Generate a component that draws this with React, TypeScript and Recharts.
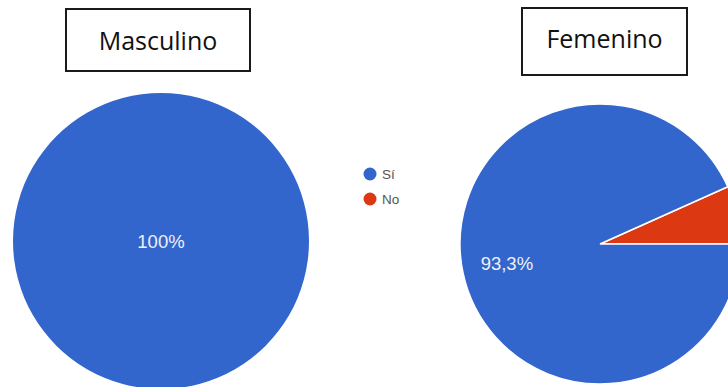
import { PieChart, Pie, Cell, Legend } from 'recharts'

const categories = ['Sí', 'No']
const colors = ['#3366cc', '#dc3912']
const titles = ['Masculino', 'Femenino']
const masculinoValues = [100, 0]
const femeninoValues = [93.3, 6.7]

const RAD = Math.PI / 180

// pie starts at 3 o'clock and goes counterclockwise, so "No" goes first to sit above the axis
const toData = (values: number[]) =>
  categories
    .map((name, i) => ({ name, value: values[i], color: colors[i] }))
    .reverse()

const masculinoData = toData(masculinoValues)
const femeninoData = toData(femeninoValues)

function formatPct(v: number) {
  return Number.isInteger(v) ? `${v}%` : `${v.toFixed(1).replace('.', ',')}%`
}

function SliceLabel(props: any) {
  const { cx, cy, midAngle, outerRadius, percent, value } = props
  if (percent < 0.1) return null
  const r = percent >= 0.999 ? 0 : outerRadius * 0.68
  const x = cx + r * Math.cos(-midAngle * RAD)
  const y = cy + r * Math.sin(-midAngle * RAD)
  return (
    <text
      x={x}
      y={y}
      fill="#eef1f8"
      fontSize={18.5}
      fontFamily="Arial, 'Liberation Sans', sans-serif"
      textAnchor="middle"
      dominantBaseline="central"
    >
      {formatPct(value)}
    </text>
  )
}

function LegendContent() {
  return (
    <svg width={60} height={50}>
      {categories.map((c, i) => (
        <g key={c}>
          <circle cx={7} cy={8 + i * 25} r={6.5} fill={colors[i]} />
          <text
            x={19}
            y={8 + i * 25}
            fontSize={13.5}
            fill="#555"
            fontFamily="Arial, 'Liberation Sans', sans-serif"
            dominantBaseline="central"
          >
            {c}
          </text>
        </g>
      ))}
    </svg>
  )
}

const boxStyle: React.CSSProperties = {
  position: 'absolute',
  border: '2px solid #1a1a1a',
  background: '#fff',
  boxSizing: 'border-box',
  display: 'flex',
  alignItems: 'center',
  justifyContent: 'center',
  fontFamily: "'Open Sans', sans-serif",
  fontSize: 25,
  color: '#111',
}

export default function App() {
  return (
    <div
      style={{
        position: 'fixed',
        left: 0,
        top: 0,
        width: 728,
        height: 387,
        overflow: 'hidden',
        background: '#fff',
      }}
    >
      <PieChart width={728} height={387} margin={{ top: 0, right: 0, bottom: 0, left: 0 }}>
        <Pie
          data={masculinoData}
          dataKey="value"
          nameKey="name"
          cx={161}
          cy={241}
          outerRadius={148}
          startAngle={0}
          endAngle={360}
          stroke="none"
          label={SliceLabel}
          labelLine={false}
          isAnimationActive={false}
          legendType="none"
        >
          {masculinoData.map((d) => (
            <Cell key={d.name} fill={d.color} />
          ))}
        </Pie>
        <Pie
          data={femeninoData}
          dataKey="value"
          nameKey="name"
          cx={600}
          cy={244}
          outerRadius={140}
          startAngle={0}
          endAngle={360}
          stroke="#fff"
          strokeWidth={1.5}
          label={SliceLabel}
          labelLine={false}
          isAnimationActive={false}
          legendType="none"
        >
          {femeninoData.map((d) => (
            <Cell key={d.name} fill={d.color} />
          ))}
        </Pie>
        <Legend
          content={<LegendContent />}
          wrapperStyle={{ position: 'absolute', left: 363, top: 166, width: 60 }}
        />
      </PieChart>
      <div style={{ ...boxStyle, left: 65, top: 8, width: 186, height: 64 }}>{titles[0]}</div>
      <div style={{ ...boxStyle, left: 521, top: 7, width: 167, height: 69, paddingBottom: 8 }}>
        {titles[1]}
      </div>
    </div>
  )
}
